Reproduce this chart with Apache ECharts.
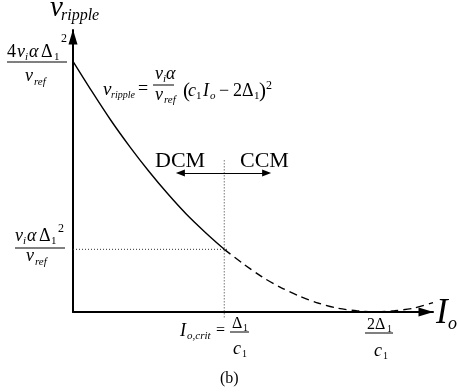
<!DOCTYPE html>
<html>
<head>
<meta charset="utf-8">
<script src="https://cdn.jsdelivr.net/npm/echarts@6/dist/echarts.min.js"></script>
<style>
  html, body { margin: 0; padding: 0; background: #fff; }
  #chart { width: 458px; height: 392px; }
</style>
</head>
<body>
<div id="chart"></div>
<script>
// Ripple voltage versus load current (normalised: Io in units of Δ1/c1,
// v_ripple in units of v_i·α·Δ1²/v_ref).
const ioSolid = [0, 0.125, 0.25, 0.375, 0.5, 0.625, 0.75, 0.875, 1.0];     // DCM branch
const vSolid = [4.0, 3.52, 3.06, 2.64, 2.25, 1.89, 1.56, 1.27, 1.0];
const ioDashed = [1.0, 1.125, 1.25, 1.375, 1.5, 1.625, 1.75, 1.875, 2.0, 2.125, 2.25, 2.38]; // CCM branch
const vDashed = [1.0, 0.77, 0.56, 0.39, 0.25, 0.14, 0.06, 0.02, 0.0, 0.02, 0.06, 0.15];
const ioCrit = 1.0;     // Io,crit = Δ1/c1
const vCrit = 1.0;      // ripple at Io,crit
const ioZero = 2.0;     // 2Δ1/c1
const ioMax = 2.38;
const vMax = 4.5;
const modeArrow = [0.71, 1.28]; // DCM <-> CCM arrow extent
const modeArrowLevel = 2.22;
const critLineTop = 2.42;
const critLineBottom = -0.11;
const critHLineEnd = 1.03;

const SERIF = '"Liberation Serif", "Times New Roman", serif';

function pairs(xs, ys) { return xs.map((x, i) => [x, ys[i]]); }

// text piece placed by its baseline
function t(x, base, s, size, italic) {
  return {
    type: 'text', x: x, y: base - 0.33 * size, silent: true,
    style: {
      text: s, fill: '#000', verticalAlign: 'middle', align: 'left',
      font: (italic ? 'italic ' : '') + size + 'px ' + SERIF
    }
  };
}
function rule(x1, x2, y) {
  return { type: 'line', silent: true, shape: { x1: x1, y1: y, x2: x2, y2: y },
           style: { stroke: '#000', lineWidth: 1 } };
}

const texts = [
  // y-axis name v_ripple
  t(50, 18, 'v', 29, true), t(61, 21, 'ripple', 16, true),
  // x-axis name I_o
  t(436, 325, 'I', 35, true), t(448, 330, 'o', 18, true),

  // 4 v_i α Δ1² / v_ref
  t(7, 58, '4', 18, false), t(17, 58, 'v', 18, true), t(25, 61, 'i', 11, true),
  t(29, 58, 'α', 18, true), t(41, 58, 'Δ', 18, false), t(54, 61, '1', 11, false),
  t(61, 43, '2', 12, false),
  rule(7, 67, 62),
  t(25, 82, 'v', 18, true), t(34, 86, 'ref', 11, true),

  // v_i α Δ1² / v_ref
  t(15, 242, 'v', 18, true), t(23, 245, 'i', 11, true),
  t(27, 242, 'α', 18, true), t(39, 242, 'Δ', 18, false), t(51, 245, '1', 11, false),
  t(58, 233, '2', 12, false),
  rule(15, 65, 248),
  t(26, 262, 'v', 18, true), t(35, 266, 'ref', 11, true),

  // v_ripple = v_i α / v_ref (c1 Io − 2Δ1)²
  t(103, 96, 'v', 19, true), t(111, 99, 'ripple', 10, true),
  t(138, 95, '=', 18, false),
  t(155, 80, 'v', 18, true), t(163, 83, 'i', 11, true), t(166, 80, 'α', 18, true),
  rule(153, 174, 85),
  t(155, 101, 'v', 18, true), t(164, 104, 'ref', 11, true),
  t(183, 98, '(', 21, false),
  t(188, 97, 'c', 18, true), t(196, 100, '1', 11, false),
  t(203, 97, 'I', 18, true), t(210, 100, 'o', 11, true),
  t(219, 97, '−', 18, false),
  t(233, 97, '2', 18, false), t(242, 97, 'Δ', 18, false), t(254, 100, '1', 11, false),
  t(259, 98, ')', 21, false), t(266, 90, '2', 12, false),

  // DCM / CCM
  t(155, 168, 'DCM', 22, false), t(240, 168, 'CCM', 22, false),

  // Io,crit = Δ1 / c1
  t(180, 337, 'I', 18, true), t(187, 340, 'o,crit', 11, true),
  t(216, 336, '=', 16, false),
  t(232, 329, 'Δ', 16, false), t(243, 332, '1', 10, false),
  rule(230, 249, 332),
  t(233, 355, 'c', 18, true), t(242, 358, '1', 10, false),

  // 2Δ1 / c1
  t(367, 330, '2', 16, false), t(375, 330, 'Δ', 16, false), t(387, 333, '1', 10, false),
  rule(365, 393, 333),
  t(374, 357, 'c', 18, true), t(383, 360, '1', 10, false),

  // caption
  t(220, 384, '(b)', 16, false)
];

const chart = echarts.init(document.getElementById('chart'), null, { renderer: 'canvas' });

const axisCommon = {
  type: 'value',
  axisLabel: { show: false },
  axisTick: { show: false },
  splitLine: { show: false },
  axisLine: {
    show: true, onZero: false,
    symbol: ['none', 'triangle'],
    symbolSize: [9, 15],
    symbolOffset: [0, -7],
    lineStyle: { color: '#000', width: 2 }
  }
};

chart.setOption({
  animation: false,
  backgroundColor: '#fff',
  grid: { left: 73, right: 25, top: 30, bottom: 80 },
  xAxis: Object.assign({}, axisCommon, { min: 0, max: ioMax }),
  yAxis: Object.assign({}, axisCommon, { min: 0, max: vMax }),
  series: [
    {
      type: 'line', data: pairs(ioSolid, vSolid), smooth: 0.3,
      symbol: 'none', clip: false,
      lineStyle: { color: '#000', width: 1.4 }, z: 5
    },
    {
      type: 'line', data: pairs(ioDashed, vDashed), smooth: 0.3,
      symbol: 'none', clip: false,
      lineStyle: { color: '#000', width: 1.4, type: [8, 5] }, z: 5,
      markLine: {
        silent: true, symbol: 'none', label: { show: false },
        lineStyle: { color: '#000', width: 1, type: 'solid' },
        data: [[{ coord: [ioZero, -0.13] }, { coord: [ioZero, 0.09] }]]
      }
    },
    {
      // Io,crit guide lines
      type: 'line', data: [[ioCrit, critLineTop], [ioCrit, critLineBottom]],
      symbol: 'none', clip: false,
      lineStyle: { color: '#333', width: 1, type: [1, 2] }
    },
    {
      type: 'line', data: [[0, vCrit], [critHLineEnd, vCrit]],
      symbol: 'none', clip: false,
      lineStyle: { color: '#333', width: 1, type: [1, 2] },
      markLine: {
        silent: true, symbol: ['triangle', 'triangle'], symbolSize: [7, 9],
        label: { show: false },
        lineStyle: { color: '#000', width: 1.2, type: 'solid' },
        data: [[{ coord: [modeArrow[0], modeArrowLevel] }, { coord: [modeArrow[1], modeArrowLevel] }]]
      }
    }
  ],
  graphic: texts
});
</script>
</body>
</html>
